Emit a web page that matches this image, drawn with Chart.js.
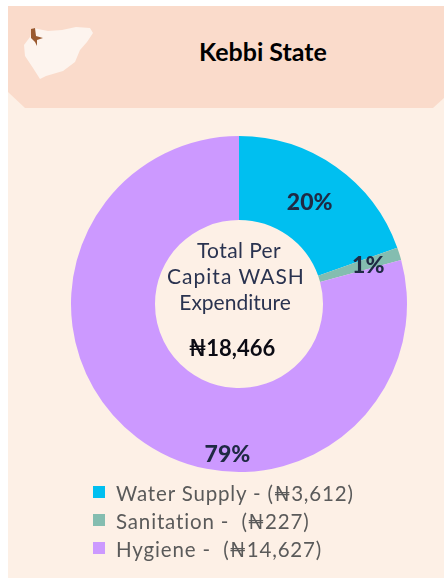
<!DOCTYPE html>
<html>
<head>
<meta charset="utf-8">
<script src="https://cdn.jsdelivr.net/npm/chart.js@4"></script>
<style>
  html, body { margin: 0; padding: 0; background: #fff; }
  body { width: 444px; height: 580px; position: relative; overflow: hidden; font-family: Lato, "Noto Sans", sans-serif; }
  .panel { position: absolute; left: 8px; top: 6px; width: 436px; height: 572px; background: #fdf0e6; }
  .header { position: absolute; left: 8px; top: 6px; width: 436px; height: 102px; background: #fadbcb;
    clip-path: polygon(0 0, 100% 0, 100% 92px, 425px 100%, 17px 100%, 0 86px); }
  .title { position: absolute; left: 199px; top: 36px; font-size: 25px; font-weight: 700; color: #000; white-space: nowrap; }
  .map { position: absolute; left: 0; top: 0; filter: blur(0.5px); }
  canvas { position: absolute; left: 0; top: 0; }
  .center { position: absolute; left: 155px; top: 237px; width: 168px; text-align: center; color: #2a3350; font-size: 21px; line-height: 26px; }
  .center span { display: block; white-space: nowrap; }
  .center .wide { letter-spacing: 1px; position: relative; left: -3px; }
  .center .shift { position: relative; left: -4px; }
  .center b { display: block; position: relative; left: -7px; margin-top: 20px; color: #0b0b14; font-size: 22px; }
  .legend { position: absolute; left: 93px; top: 479px; color: #5a5a5a; font-size: 20.5px; line-height: 28px; letter-spacing: 0.85px; white-space: pre; }
  .legend i { display: inline-block; width: 12px; height: 12px; margin-right: 11px; position: relative; top: -3px; }
</style>
</head>
<body>
<div class="panel"></div>
<div class="header"></div>
<svg class="map" width="110" height="90" viewBox="0 0 110 90">
  <path d="M24 45 L30 37 L33 28 L48 31 L62 30 L76 27 L90 28 L93 33 L87 42 L80 50 L75 62 L63 71 L46 76 L40 79 L33 68 L25 56 Z" fill="#fdf4ee"/>
  <path d="M31 29 L35 28 L36 36 L43 38 L37 40 L37 46 L35 42 L31 38 Z" fill="#9a5a30"/>
</svg>
<div class="title">Kebbi State</div>
<canvas id="chart" width="444" height="580"></canvas>
<div class="center"><span style="letter-spacing:0.4px">Total Per</span><span class="wide">Capita WASH</span><span class="shift">Expenditure</span><b>₦18,466</b></div>
<div class="legend" id="legend"></div>
<script>
  const categories = ['Water Supply', 'Sanitation', 'Hygiene'];
  const amounts = [3612, 227, 14627];
  const percentLabels = ['20%', '1%', '79%'];
  const legendGaps = [' - (', ' -  (', ' -  ('];
  const colors = ['#00bff0', '#84bdb0', '#cc99ff'];
  // labels were moved by hand in the original, offset from the middle of each arc
  const labelOffsets = [[-2, 2], [9, -1], [65, 51]];

  const percentLabelsPlugin = {
    id: 'percentLabels',
    afterDatasetsDraw(chart) {
      const ctx = chart.ctx;
      ctx.save();
      ctx.font = '900 23px Lato, "Noto Sans", sans-serif';
      ctx.fillStyle = '#1f2a44';
      ctx.textAlign = 'center';
      ctx.textBaseline = 'middle';
      chart.getDatasetMeta(0).data.forEach((arc, i) => {
        const pos = arc.tooltipPosition();
        ctx.fillText(percentLabels[i], pos.x + labelOffsets[i][0], pos.y + labelOffsets[i][1]);
      });
      ctx.restore();
    },
  };

  new Chart(document.getElementById('chart').getContext('2d'), {
    type: 'doughnut',
    data: {
      labels: categories,
      datasets: [{ data: amounts, backgroundColor: colors, borderWidth: 0 }],
    },
    options: {
      responsive: false,
      animation: false,
      cutout: '50%',
      layout: { padding: { left: 71, right: 37, top: 136, bottom: 108 } },
      plugins: { legend: { display: false }, tooltip: { enabled: false } },
    },
    plugins: [percentLabelsPlugin],
  });

  document.getElementById('legend').innerHTML = categories.map((name, i) =>
    `<div><i style="background:${colors[i]}"></i>${name}${legendGaps[i]}₦${amounts[i].toLocaleString('en-US')})</div>`
  ).join('');
</script>
</body>
</html>
